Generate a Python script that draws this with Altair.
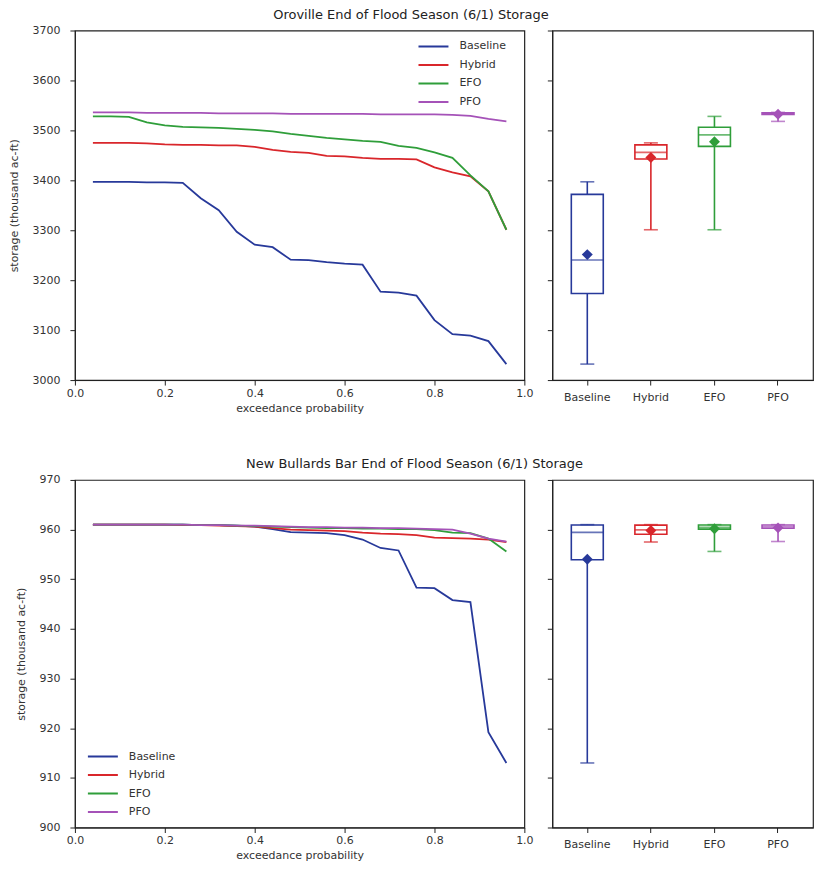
import altair as alt
import pandas as pd

scenarios = ["Baseline", "Hybrid", "EFO", "PFO"]
colors = ["#27399a", "#d9262b", "#2f9e3a", "#a552b8"]

# exceedance probability (plotting positions)
prob = [0.04, 0.08, 0.12, 0.16, 0.20, 0.24, 0.28, 0.32, 0.36, 0.40, 0.44, 0.48,
        0.52, 0.56, 0.60, 0.64, 0.68, 0.72, 0.76, 0.80, 0.84, 0.88, 0.92, 0.96]

# Oroville storage (thousand ac-ft)
oro_baseline = [3397, 3397, 3397, 3396, 3396, 3395, 3364, 3340, 3297, 3271, 3266, 3241,
                3240, 3236, 3233, 3231, 3177, 3175, 3169, 3120, 3092, 3089, 3078, 3032]
oro_hybrid = [3475, 3475, 3475, 3474, 3472, 3471, 3471, 3470, 3470, 3467, 3461, 3457,
              3455, 3449, 3448, 3445, 3443, 3443, 3442, 3426, 3416, 3408, 3378, 3301]
oro_efo = [3528, 3528, 3527, 3516, 3510, 3507, 3506, 3505, 3503, 3501, 3498, 3493,
           3489, 3485, 3482, 3479, 3477, 3469, 3465, 3456, 3445, 3410, 3378, 3301]
oro_pfo = [3536, 3536, 3536, 3535, 3535, 3535, 3535, 3534, 3534, 3534, 3534, 3533,
           3533, 3533, 3533, 3533, 3532, 3532, 3532, 3532, 3531, 3529, 3523, 3518]

# New Bullards Bar storage (thousand ac-ft)
nbb_baseline = [961.0, 961.0, 961.0, 961.0, 961.0, 961.0, 960.9, 960.9, 960.8, 960.6, 960.1, 959.5,
                959.4, 959.3, 958.9, 958.0, 956.3, 955.8, 948.3, 948.2, 945.8, 945.4, 919.2, 913.0]
nbb_hybrid = [961.0, 961.0, 961.0, 961.0, 961.0, 960.9, 960.9, 960.8, 960.7, 960.6, 960.3, 960.0,
              959.9, 959.8, 959.7, 959.4, 959.2, 959.1, 958.9, 958.4, 958.3, 958.2, 958.0, 957.5]
nbb_efo = [961.0, 961.0, 961.0, 961.0, 961.0, 961.0, 960.9, 960.9, 960.8, 960.7, 960.6, 960.5,
           960.4, 960.3, 960.3, 960.2, 960.2, 960.1, 960.1, 959.9, 959.4, 959.3, 958.2, 955.6]
nbb_pfo = [961.0, 961.0, 961.0, 961.0, 961.0, 961.0, 960.9, 960.9, 960.8, 960.8, 960.7, 960.6,
           960.5, 960.5, 960.4, 960.4, 960.3, 960.3, 960.2, 960.1, 960.0, 959.2, 958.2, 957.6]

prob_ticks = [0.0, 0.2, 0.4, 0.6, 0.8, 1.0]
oro_ticks = [3000, 3100, 3200, 3300, 3400, 3500, 3600, 3700]
nbb_ticks = [900, 910, 920, 930, 940, 950, 960, 970]


def long_df(series):
    rows = []
    for name, vals in zip(scenarios, series):
        for p, v in zip(prob, vals):
            rows.append({"scenario": name, "prob": p, "storage": v})
    return pd.DataFrame(rows)


def panel(df, yticks, title, lx, ly, lw, lh, bw):
    ydom = [yticks[0], yticks[-1]]
    cscale = alt.Scale(domain=scenarios, range=colors)
    lines = alt.Chart(df).mark_line(strokeWidth=1.8).encode(
        x=alt.X("prob:Q", scale=alt.Scale(domain=[0, 1], nice=False),
                axis=alt.Axis(values=prob_ticks, format=".1f", labelFlush=False,
                              title="exceedance probability", titlePadding=4)),
        y=alt.Y("storage:Q", scale=alt.Scale(domain=ydom, nice=False, zero=False),
                axis=alt.Axis(values=yticks, format="d", labelPadding=10, titlePadding=12,
                              title="storage (thousand ac-ft)")),
        color=alt.Color("scenario:N", scale=cscale, sort=scenarios,
                        legend=alt.Legend(orient="none", legendX=lx, legendY=ly, title=None,
                                          symbolType="stroke", symbolSize=900, symbolStrokeWidth=2,
                                          labelFontSize=11, clipHeight=16, rowPadding=2.5,
                                          labelOffset=10, padding=0)),
    ).properties(width=lw, height=lh)

    xenc = alt.X("scenario:N", sort=scenarios,
                 scale=alt.Scale(domain=scenarios, paddingInner=0.0, paddingOuter=0.05),
                 axis=alt.Axis(title=None, labelAngle=0, labelPadding=6))
    yscale = alt.Scale(domain=ydom, nice=False, zero=False)
    yaxis = alt.Axis(values=yticks, labels=False, title=None)
    col = alt.Color("scenario:N", scale=cscale, legend=None)
    base = alt.Chart(df).transform_aggregate(
        q1="q1(storage)", q3="q3(storage)", med="median(storage)",
        lo="min(storage)", hi="max(storage)", mean="mean(storage)",
        groupby=["scenario"])
    whisk = base.mark_rule(strokeWidth=1.6).encode(
        x=xenc, y=alt.Y("lo:Q", scale=yscale, axis=yaxis), y2="hi:Q", color=col)
    box = base.mark_bar(size=32, fill="white", strokeWidth=1.6).encode(
        x=xenc, y=alt.Y("q1:Q"), y2="q3:Q",
        stroke=alt.Stroke("scenario:N", scale=cscale, legend=None))
    med = base.mark_tick(size=32, thickness=1.6).encode(x=xenc, y="med:Q", color=col)
    cap_lo = base.mark_tick(size=14, thickness=1.6).encode(x=xenc, y="lo:Q", color=col)
    cap_hi = base.mark_tick(size=14, thickness=1.6).encode(x=xenc, y="hi:Q", color=col)
    mean = base.mark_point(shape="diamond", filled=True, size=120, opacity=1).encode(
        x=xenc, y="mean:Q", color=col)
    boxes = alt.layer(whisk, box, med, cap_lo, cap_hi, mean).properties(width=bw, height=lh)

    return alt.hconcat(lines, boxes, spacing=11).resolve_scale(
        color="independent", y="independent").resolve_legend(color="independent").properties(
        title=alt.TitleParams(title, anchor="middle", fontSize=13, fontWeight="normal",
                              offset=2, font="DejaVu Sans", color="#222"))


oro_df = long_df([oro_baseline, oro_hybrid, oro_efo, oro_pfo])
nbb_df = long_df([nbb_baseline, nbb_hybrid, nbb_efo, nbb_pfo])

top = panel(oro_df, oro_ticks, "Oroville End of Flood Season (6/1) Storage",
            343, 8, 450, 350, 261)
bottom = panel(nbb_df, nbb_ticks, "New Bullards Bar End of Flood Season (6/1) Storage",
               12, 269, 450, 348, 261)

chart = alt.vconcat(top, bottom, spacing=44).properties(
    padding={"left": 0, "top": 0, "right": 0, "bottom": 0}
).configure_view(
    stroke="#222", strokeWidth=1.2
).configure_axis(
    grid=False, labelFont="DejaVu Sans", titleFont="DejaVu Sans", labelFontSize=11,
    titleFontSize=11, titleFontWeight="normal", labelColor="#333", titleColor="#333",
    domainColor="#222", tickColor="#222", tickSize=5
).configure_legend(labelFont="DejaVu Sans", labelColor="#333")

chart.save("out.html", embed_options={"renderer": "svg", "actions": False})
